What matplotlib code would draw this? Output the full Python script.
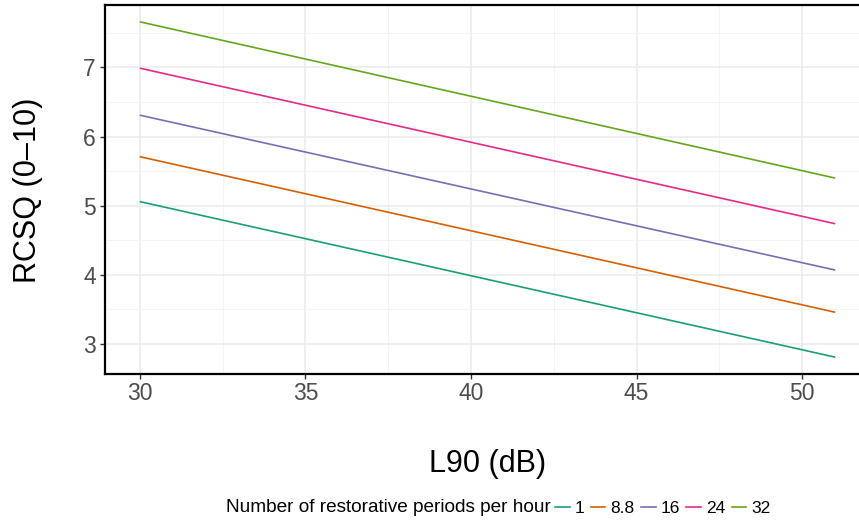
import matplotlib
matplotlib.use("Agg")
import matplotlib.pyplot as plt
from matplotlib.lines import Line2D
from matplotlib.ticker import MultipleLocator

plt.rcParams['font.family'] = ['Liberation Sans', 'DejaVu Sans']

l90 = [30, 51]
groups = ["1", "8.8", "16", "24", "32"]
rcsq = {
    "1":   [5.06, 2.81],
    "8.8": [5.71, 3.46],
    "16":  [6.31, 4.07],
    "24":  [6.99, 4.74],
    "32":  [7.66, 5.40],
}
colors = ["#1B9E77", "#D95F02", "#7570B3", "#E7298A", "#66A61E"]
legend_title = "Number of restorative periods per hour"

W, H = 859, 520
fig = plt.figure(figsize=(W/100, H/100), dpi=100)
ax = fig.add_axes([105/W, 1-374/H, (870-105)/W, (374-5)/H])

for g, c in zip(groups, colors):
    ax.plot(l90, rcsq[g], color=c, lw=1.2, solid_capstyle='butt')

ax.set_xlim(28.95, 52.05)
ax.set_ylim(2.567, 7.903)
ax.xaxis.set_major_locator(MultipleLocator(5))
ax.xaxis.set_minor_locator(MultipleLocator(2.5))
ax.yaxis.set_major_locator(MultipleLocator(1))
ax.yaxis.set_minor_locator(MultipleLocator(0.5))
ax.grid(which='major', color='#EBEBEB', lw=1.1)
ax.grid(which='minor', color='#F3F3F3', lw=0.6)
ax.set_axisbelow(True)
for s in ax.spines.values():
    s.set_linewidth(1.6)
    s.set_color('black')
ax.tick_params(which='major', length=3.6, width=1.0, color='#333333', labelsize=16.5,
               labelcolor='#4D4D4D')
ax.tick_params(axis='x', pad=2)
ax.tick_params(axis='y', pad=3)
ax.tick_params(which='minor', length=0)

fig.text(487.5/W, 1-464/H, "L90 (dB)", fontsize=22, ha='center', va='center', color='black')
fig.text(28/W, 1-190/H, "RCSQ (0\u201310)", fontsize=22, rotation=90, ha='center', va='center', color='black')

ttl = fig.text(226/W, 1-508/H, legend_title, fontsize=13.7,
               ha='left', va='center', color='black')
fig.canvas.draw()
bb = ttl.get_window_extent(fig.canvas.get_renderer())
handles = [Line2D([0], [0], color=c, lw=1.2) for c in colors]
fig.legend(handles, groups, loc='center left', bbox_to_anchor=((bb.x1 + 4)/W, 1-508/H),
           ncol=5, frameon=False, fontsize=12.5, handlelength=0.85, handletextpad=0.3,
           columnspacing=0.35, borderpad=0, borderaxespad=0)

fig.savefig("out.png", dpi=100)
